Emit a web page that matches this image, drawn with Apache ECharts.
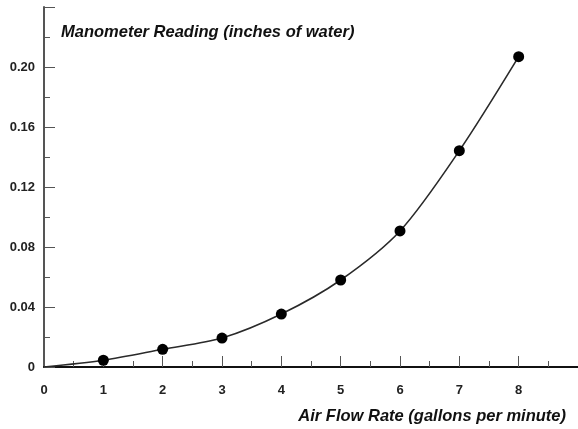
<!DOCTYPE html>
<html>
<head>
<meta charset="utf-8">
<script src="https://cdn.jsdelivr.net/npm/echarts@6/dist/echarts.min.js"></script>
<style>html,body{margin:0;padding:0;background:#fff}#c{width:578px;height:429px}</style>
</head>
<body>
<div id="c"></div>
<script>
const flowRates = [0, 1, 2, 3, 4, 5, 6, 7, 8];
const readings = [0, 0.0045, 0.0118, 0.0193, 0.0353, 0.058, 0.0907, 0.1442, 0.2069];
const yTitle = 'Manometer Reading (inches of water)';
const xTitle = 'Air Flow Rate (gallons per minute)';

const font = '"Liberation Sans", Arial, sans-serif';
const chart = echarts.init(document.getElementById('c'), null, {renderer: 'canvas'});
const data = flowRates.map((x, i) => ({
  value: [x, readings[i]],
  symbol: i === 0 ? 'none' : 'circle'
}));
chart.setOption({
  animation: false,
  backgroundColor: '#fff',
  title: [
    {text: yTitle, left: 61, top: 24, padding: 0,
     textStyle: {fontFamily: font, fontSize: 16.5, fontWeight: 'bold', fontStyle: 'italic', color: '#111'}},
    {text: xTitle, right: 12, top: 408, padding: 0,
     textStyle: {fontFamily: font, fontSize: 16.5, fontWeight: 'bold', fontStyle: 'italic', color: '#111'}}
  ],
  grid: {left: 44, right: -5, top: 7, bottom: 62, containLabel: false},
  xAxis: {
    type: 'value', min: 0, max: 9, interval: 1,
    axisLine: {show: true, onZero: false, lineStyle: {color: '#111', width: 2}},
    axisTick: {show: true, inside: true, length: 11, lineStyle: {color: '#555', width: 1}},
    minorTick: {show: true, splitNumber: 2, length: 6, lineStyle: {color: '#555', width: 1}},
    splitLine: {show: false},
    axisLabel: {showMaxLabel: false, margin: 17, fontFamily: font, fontSize: 13, fontWeight: 'bold', color: '#222'}
  },
  yAxis: {
    type: 'value', min: 0, max: 0.24, interval: 0.04,
    axisLine: {show: true, onZero: false, lineStyle: {color: '#555', width: 2}},
    axisTick: {show: true, inside: true, length: 11, lineStyle: {color: '#555', width: 1}},
    minorTick: {show: true, splitNumber: 2, length: 6, lineStyle: {color: '#555', width: 1}},
    splitLine: {show: false},
    axisLabel: {showMaxLabel: false, margin: 9, fontFamily: font, fontSize: 13, fontWeight: 'bold', color: '#222',
      formatter: v => v === 0 ? '0' : v.toFixed(2)}
  },
  series: [{
    type: 'line',
    data: data,
    smooth: 0.3,
    symbolSize: 11,
    itemStyle: {color: '#000'},
    lineStyle: {color: '#2a2a2a', width: 1.6}
  }]
});
</script>
</body>
</html>
